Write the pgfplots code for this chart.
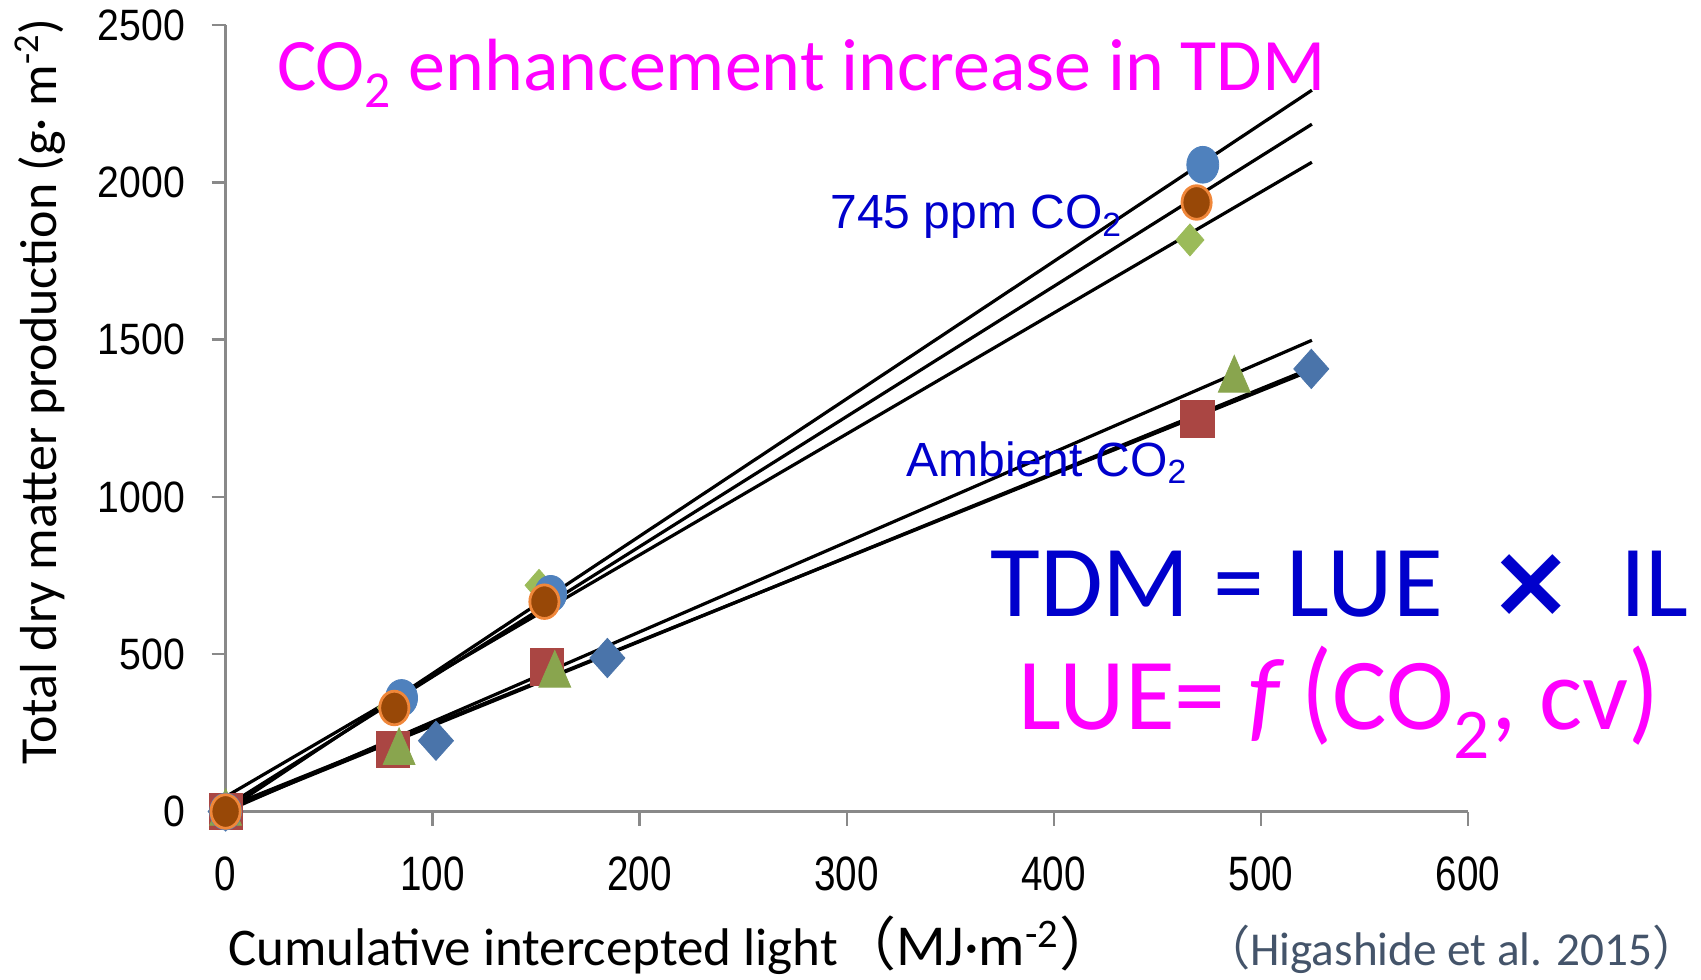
\documentclass[border=0pt]{standalone}
\usepackage{fontspec}
\setmainfont{Carlito}
\newfontfamily\arial{Liberation Sans}
\newfontfamily\cjk{Noto Sans CJK JP}
\newfontfamily\dejavu{DejaVu Sans}
\usepackage{graphicx}
\usepackage{pgfplots}
\pgfplotsset{compat=1.18}

\definecolor{cblue}{HTML}{4F81BD}
\definecolor{corange}{HTML}{F0873A}
\definecolor{cbrown}{HTML}{984807}
\definecolor{clgreen}{HTML}{9BBB59}
\definecolor{cdblue}{HTML}{4A74AA}
\definecolor{cred}{HTML}{AA4643}
\definecolor{cgreen}{HTML}{89A54E}
\definecolor{txtblue}{HTML}{0000CC}
\definecolor{txtmag}{HTML}{FF00FF}
\definecolor{citecol}{HTML}{44546A}
\definecolor{axgray}{HTML}{898989}

\begin{document}
\begin{tikzpicture}
\path[use as bounding box] (-112.8pt,-83.75pt) rectangle (737.7pt,405.75pt);
\begin{axis}[
  at={(0,0)}, anchor=south west,
  scale only axis, width=621.1pt, height=393.2pt,
  xmin=0, xmax=600, ymin=0, ymax=2500,
  axis x line*=bottom, axis y line*=left,
  axis line style={-, draw=axgray, line width=1.8pt},
  xtick={0,100,...,600}, ytick={0,500,...,2500},
  tick align=outside, major tick length=7pt,
  tick style={draw=axgray, line width=1.2pt},
  clip=false,
  /pgf/number format/assume math mode=true,
  /pgf/number format/1000 sep={},
  xticklabel={\scalebox{1}[1.25]{\pgfmathprintnumber{\tick}}},
  yticklabel={\scalebox{1}[1.12]{\pgfmathprintnumber{\tick}}},
  xticklabel style={font=\arial\fontsize{19.3pt}{22pt}\selectfont, anchor=north, inner sep=0pt, yshift=-15.6pt},
  yticklabel style={font=\arial\fontsize{19.6pt}{22pt}\selectfont, anchor=east, inner sep=0pt, xshift=-13pt},
]
% ambient CO2
\addplot[only marks, mark=square*, mark size=6.2pt,
  mark options={yscale=1.12, rotate=45, fill=cdblue, draw=cdblue}]
  coordinates {(0,0) (101.6,225) (184.4,488) (524.4,1407)};
\addplot[only marks, mark=square*, mark size=8.3pt,
  mark options={yscale=1.1, fill=cred, draw=cred}]
  coordinates {(0,0) (81,198) (155,460) (469.4,1248)};
\addplot[only marks, mark=triangle*, mark size=9.2pt,
  mark options={yscale=1.33, fill=cgreen, draw=cgreen}]
  coordinates {(0,-5) (83.8,188) (159,434) (487.2,1372)};
% 745 ppm CO2
\addplot[only marks, mark=square*, mark size=4.95pt,
  mark options={yscale=1.14, rotate=45, fill=clgreen, draw=clgreen}]
  coordinates {(0,0) (80,330) (151.4,719) (465.8,1817)};
\addplot[only marks, mark=*, mark size=8pt,
  mark options={yscale=1.15, fill=cblue, draw=cblue}]
  coordinates {(0,0) (85,361) (157,692) (472,2056)};
\addplot[only marks, mark=*, mark size=7.3pt,
  mark options={yscale=1.15, fill=cbrown, draw=corange, line width=1.4pt}]
  coordinates {(0,0) (81.5,329) (154,667) (469,1936)};
% regression lines
\addplot[black, line width=1.6pt] coordinates {(0,2) (524.7,2293)};
\addplot[black, line width=1.6pt] coordinates {(0,15) (524.7,2185)};
\addplot[black, line width=1.6pt] coordinates {(0,47) (524.7,2064)};
\addplot[black, line width=1.6pt] coordinates {(0,0) (524.7,1498)};
\addplot[black, line width=1.6pt] coordinates {(0,5) (524.7,1410)};
\addplot[black, line width=1.6pt] coordinates {(0,12) (524.7,1403)};

\node[anchor=base west, inner sep=0pt, text=txtmag, font=\fontsize{37pt}{42pt}\selectfont]
  at (axis cs:24.7,2291) {CO\textsubscript{2} enhancement increase in TDM};
\node[anchor=base west, inner sep=0pt, text=txtblue, font=\arial\fontsize{24pt}{28pt}\selectfont]
  at (axis cs:291.9,1853) {745 ppm CO\textsubscript{2}};
\node[anchor=base west, inner sep=0pt, text=txtblue, font=\arial\fontsize{24pt}{28pt}\selectfont]
  at (axis cs:328.6,1065) {Ambient CO\textsubscript{2}};
\node[anchor=base west, inner sep=0pt, text=txtblue, font=\fontsize{51pt}{56pt}\selectfont]
  at (axis cs:369.2,621) {TDM = LUE\hspace{0.45em}{\dejavu\bfseries ×}\hspace{0.45em}IL};
\node[anchor=base west, inner sep=0pt, text=txtmag, font=\fontsize{51pt}{56pt}\selectfont]
  at (axis cs:383,262) {LUE= \textit{f}\,\scalebox{1}[1.12]{(}CO\textsubscript{2}, cv\scalebox{1}[1.12]{)}};
\node[anchor=base west, inner sep=0pt, font=\fontsize{26.5pt}{30pt}\selectfont]
  at (axis cs:1.2,-489) {Cumulative intercepted light{\fontsize{29pt}{32pt}\selectfont{\cjk （}MJ·m\textsuperscript{-2}{\cjk ）}}};
\node[anchor=base west, inner sep=0pt, text=citecol, font=\fontsize{23.6pt}{28pt}\selectfont]
  at (axis cs:472,-489) {{\cjk （}Higashide et al. 2015{\cjk ）}};
\node[rotate=90, anchor=center, inner sep=0pt, font=\fontsize{26pt}{30pt}\selectfont]
  at (axis cs:-89.6,1335) {Total dry matter production (g· m\textsuperscript{-2})};
\end{axis}
\end{tikzpicture}
\end{document}
